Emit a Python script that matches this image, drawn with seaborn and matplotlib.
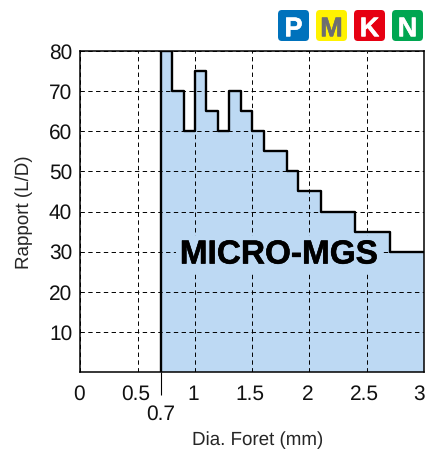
import matplotlib
matplotlib.use('Agg')
import matplotlib.pyplot as plt
import matplotlib.patheffects as pe
from matplotlib.patches import FancyBboxPatch
from matplotlib.transforms import ScaledTranslation
import pandas as pd
import seaborn as sns

# step outline: first point is the foot of the vertical at 0.7
diameters = [0.7, 0.7, 0.8, 0.9, 1.0, 1.1, 1.2, 1.3, 1.4, 1.5, 1.6, 1.8, 1.9, 2.1, 2.4, 2.7, 3.0]
ratios = [0, 80, 70, 60, 75, 65, 60, 70, 65, 60, 55, 50, 45, 40, 35, 30, 30]
x_ticks = [0, 0.5, 1, 1.5, 2, 2.5, 3]
x_tick_labels = ['0', '0.5', '1', '1.5', '2', '2.5', '3']
y_ticks = [10, 20, 30, 40, 50, 60, 70, 80]
badge_letters = ['P', 'M', 'K', 'N']
badge_colors = ['#0072bc', '#fff200', '#e60012', '#00a651']
badge_text_colors = ['white', '#6d6e71', 'white', 'white']
fill_color = '#bdd9f3'

df = pd.DataFrame({'dia': diameters, 'ratio': ratios})

sns.set_style('white')
plt.rcParams['font.family'] = ['Liberation Sans', 'DejaVu Sans']
plt.rcParams['text.hinting'] = 'no_hinting'

W, H = 427, 453
fig = plt.figure(figsize=(W / 100, H / 100), dpi=100)
ax = fig.add_axes([80.5 / W, 1 - 372 / H, 343.5 / W, 321 / H])

ax.fill_between(df['dia'], df['ratio'], step='post', color=fill_color, lw=0, zorder=1)
sns.lineplot(data=df, x='dia', y='ratio', ax=ax, sort=False, estimator=None,
             drawstyle='steps-post', color='black', lw=1.7, zorder=3)

ax.set_xlim(0, 3)
ax.set_ylim(0, 80)
ax.set_xticks(x_ticks, labels=x_tick_labels)
ax.set_yticks(y_ticks)
ax.set_xticks([0.7], labels=['0.7'], minor=True)
ax.tick_params(axis='both', which='major', length=0, labelsize=15, labelcolor='#111111')
ax.tick_params(axis='x', which='major', pad=9)
ax.tick_params(axis='y', which='major', pad=6)
ax.tick_params(axis='x', which='minor', bottom=True, length=16.5, width=0.8, color='black',
               labelsize=15, pad=7, labelcolor='#111111')

# the labels sit slightly left of their ticks, the last one stays inside the frame
for label, shift in zip(ax.get_xticklabels(), [-2, -2, -2, -2, -2, -2, -5]):
    label.set_transform(label.get_transform() + ScaledTranslation(shift / 100, 0, fig.dpi_scale_trans))

ax.set_axisbelow(False)
ax.grid(True, which='major', color='black', lw=0.7, ls=(0, (4.5, 3.5)))
ax.grid(False, which='minor')
for spine in ax.spines.values():
    spine.set_visible(True)
    spine.set_color('black')
    spine.set_linewidth(1.1)

ax.set_xlabel('Dia. Foret (mm)', fontsize=13.5)
ax.set_ylabel('Rapport (L/D)', fontsize=13.5)
ax.xaxis.set_label_coords((258 - 80.5) / 343.5, -(431 - 372) / 321)
ax.yaxis.set_label_coords((33 - 80.5) / 343.5, (372 - 212) / 321)

# the box in the fill colour hides the grid around the name
ax.text(279 / W, 1 - 255 / H, 'MICRO-MGS', transform=fig.transFigure, fontsize=24,
        fontweight='bold', color='black', ha='center', va='center', zorder=5,
        path_effects=[pe.withStroke(linewidth=0.4, foreground='black')],
        bbox=dict(fc=fill_color, ec='none', pad=2.5))

# grade badges at the top right
for i, letter in enumerate(badge_letters):
    x0 = 278 + i * 38
    fig.patches.append(FancyBboxPatch((x0 / W, 1 - 41 / H), 31 / W, 31 / H,
                                      boxstyle='round,pad=0,rounding_size=0.009',
                                      transform=fig.transFigure, fc=badge_colors[i], ec='none'))
    fig.text((x0 + 15.5) / W, 1 - 26.5 / H, letter, fontsize=19.5, fontweight='bold',
             color=badge_text_colors[i], ha='center', va='center_baseline',
             path_effects=[pe.withStroke(linewidth=0.4, foreground=badge_text_colors[i])])

fig.savefig('out.png', dpi=100, facecolor='white')
